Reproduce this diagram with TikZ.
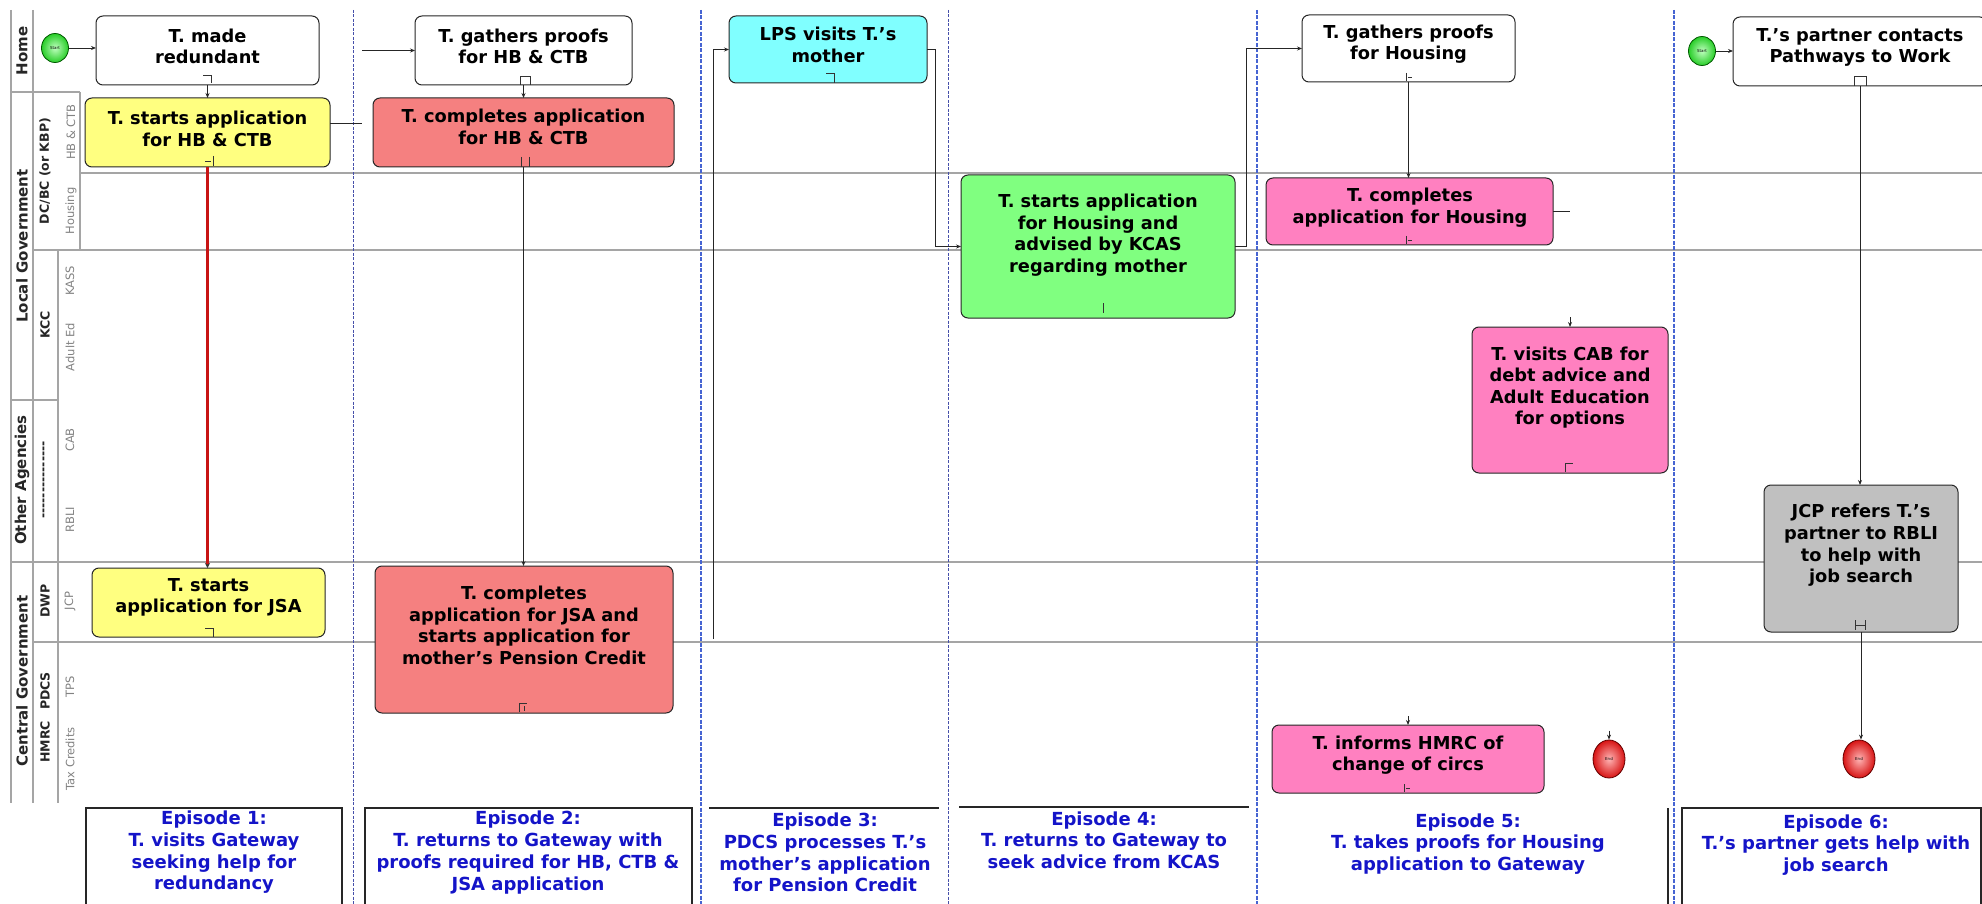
\documentclass[tikz,border=0pt]{standalone}
\usepackage{fontspec}
\setmainfont{DejaVu Sans}
\usepackage{graphicx}
\usetikzlibrary{arrows.meta,shapes.geometric}
\definecolor{cYel}{RGB}{255,255,128}
\definecolor{cRed}{RGB}{245,128,128}
\definecolor{cCyan}{RGB}{128,255,255}
\definecolor{cGreen}{RGB}{128,255,128}
\definecolor{cPink}{RGB}{255,128,192}
\definecolor{cGray}{RGB}{192,192,192}
\definecolor{epblue}{RGB}{20,20,200}
\definecolor{lanegray}{RGB}{165,165,165}
\definecolor{septhin}{RGB}{70,80,170}
\definecolor{septhick}{RGB}{70,100,210}
\definecolor{redline}{RGB}{200,20,20}
\definecolor{stIn}{RGB}{190,255,190}
\definecolor{stOut}{RGB}{40,205,40}
\definecolor{enIn}{RGB}{255,180,180}
\definecolor{enOut}{RGB}{215,20,20}
\definecolor{labgray}{RGB}{130,130,130}
\begin{document}
\begin{tikzpicture}[x=1pt,y=-1pt,
  box/.style={draw=black!85, line width=1pt, rounded corners=7pt, inner sep=0pt, outer sep=0pt},
  txt/.style={font=\fontsize{17.8}{21.6}\selectfont\bfseries, align=center, inner sep=0pt, text=black},
  eptxt/.style={font=\fontsize{18}{21.7}\selectfont\bfseries, align=center, inner sep=0pt, text=epblue},
  lab1/.style={rotate=90, font=\fontsize{15}{18}\selectfont\bfseries, inner sep=0pt, text=black!85},
  lab2/.style={rotate=90, font=\fontsize{12.5}{15}\selectfont\bfseries, inner sep=0pt, text=black!85},
  lab3/.style={rotate=90, font=\fontsize{11.5}{14}\selectfont, inner sep=0pt, text=labgray},
  lane/.style={draw=lanegray, line width=1.1pt},
  sepA/.style={draw=septhin, line width=0.9pt, dash pattern=on 3pt off 1.5pt},
  sepB/.style={draw=septhick, line width=1.8pt, dash pattern=on 4pt off 1.5pt},
  conn/.style={draw=black!85, line width=0.9pt, -{Stealth[length=5pt,width=4pt]}},
  plain/.style={draw=black!85, line width=0.9pt},
  redc/.style={draw=redline, line width=2.2pt, -{Stealth[length=5pt,width=5pt,color=black!80]}},
  mk/.style={draw=black!80, line width=0.7pt},
  epline/.style={draw=black!85, line width=1.4pt},
  startev/.style={ellipse, draw=green!35!black, line width=0.8pt, shading=radial, inner color=stIn, outer color=stOut, minimum width=27pt, minimum height=29pt, inner sep=0pt, font=\fontsize{4}{4}\selectfont},
  endev/.style={ellipse, draw=red!40!black, line width=0.8pt, shading=radial, inner color=enIn, outer color=enOut, minimum width=32pt, minimum height=38pt, inner sep=0pt, font=\fontsize{4}{4}\selectfont}
]
\useasboundingbox (0,0) rectangle (1982,904);

% ---- label column lines
\draw[lane] (11,10) -- (11,803);
\draw[lane] (33,10) -- (33,803);
\draw[lane] (58,250) -- (58,803);
\draw[lane] (80,92) -- (80,250);
\draw[lane] (11,92) -- (80,92);
\draw[lane] (11,400) -- (58,400);
% ---- lane lines
\draw[lane] (80,173) -- (1982,173);
\draw[lane] (33,250) -- (1982,250);
\draw[lane] (11,562) -- (1982,562);
\draw[lane] (33,642) -- (1982,642);

% ---- labels
\node[lab1] (lHome) at (22,51) {Home};
\node[lab1] (lLoc) at (22,246) {Local Government};
\node[lab1] (lOth) at (22,480) {Other Agencies};
\node[lab1] (lCen) at (22,681) {Central Government};
\node[lab2] (lDC) at (45,171) {DC/BC (or KBP)};
\node[lab2] (lKCC) at (45,325) {KCC};
\node[lab2] (lDash) at (45,480) {-{}-{}-{}-{}-{}-{}-{}-{}-{}-{}-{}-{}-{}-{}-};
\node[lab2] (lDWP) at (45,601) {DWP};
\node[lab2] (lPDCS) at (45,691) {PDCS};
\node[lab2] (lHMRC) at (45,742) {HMRC};
\node[lab3] (lHB) at (71,132) {HB \& CTB};
\node[lab3] (lHou) at (71,211) {Housing};
\node[lab3] (lKASS) at (70,281) {KASS};
\node[lab3] (lAE) at (70,347) {Adult Ed};
\node[lab3] (lCAB) at (70,440) {CAB};
\node[lab3] (lRBLI) at (70,520) {RBLI};
\node[lab3] (lJCP) at (70,601) {JCP};
\node[lab3] (lTPS) at (70,687) {TPS};
\node[lab3] (lTax) at (70,759) {Tax Credits};

% ---- episode separators
\draw[sepA] (353,10) -- (353,904);
\draw[sepB] (701,10) -- (701,904);
\draw[sepA] (948,10) -- (948,904);
\draw[sepB] (1257,10) -- (1257,904);
\draw[sepB] (1674,10) -- (1674,904);

% ---- episode frames
\draw[epline] (86,906) -- (86,808) -- (342,808) -- (342,906);
\draw[epline] (365,906) -- (365,808) -- (692,808) -- (692,906);
\draw[epline] (709,808) -- (939,808);
\draw[epline] (959,807) -- (1249,807);
\draw[epline] (1668,808) -- (1668,906);
\draw[epline] (1682,906) -- (1682,808) -- (1981,808) -- (1981,906);

% ---- boxes
\node[box, fill=white, minimum width=223pt, minimum height=69pt] (made) at (207.5,50.5) {};
\node[box, fill=white, minimum width=217pt, minimum height=69pt] (gathers1) at (523.5,50.5) {};
\node[box, fill=cCyan, minimum width=198pt, minimum height=67pt] (lps) at (828,49.5) {};
\node[box, fill=white, minimum width=213pt, minimum height=67pt] (gathers2) at (1408.5,48.5) {};
\node[box, fill=white, minimum width=254pt, minimum height=69pt] (partner) at (1860,51.5) {};
\node[box, fill=cYel, minimum width=245pt, minimum height=69pt] (appHB) at (207.5,132.5) {};
\node[box, fill=cRed, minimum width=301pt, minimum height=69pt] (compHB) at (523.5,132.5) {};
\node[box, fill=cGreen, minimum width=274pt, minimum height=143pt] (green) at (1098,246.5) {};
\node[box, fill=cPink, minimum width=287pt, minimum height=67pt] (compHou) at (1409.5,211.5) {};
\node[box, fill=cPink, minimum width=196pt, minimum height=146pt] (cab) at (1570,400) {};
\node[box, fill=cGray, minimum width=194pt, minimum height=147pt] (gray) at (1861,558.5) {};
\node[box, fill=cYel, minimum width=233pt, minimum height=69pt] (appJSA) at (208.5,602.5) {};
\node[box, fill=cRed, minimum width=298pt, minimum height=147pt] (compJSA) at (524,639.5) {};
\node[box, fill=cPink, minimum width=272pt, minimum height=68pt] (hmrc) at (1408,759) {};

% ---- events
\node[startev] (start1) at (55,48) {Start};
\node[startev] (start2) at (1702,51) {Start};
\node[endev] (end1) at (1609,759) {End};
\node[endev] (end2) at (1859,759) {End};

% ---- box texts
\node[txt] (made-t) at (207.5,46.5) {T. made\\redundant};
\node[txt] (gathers1-t) at (523.5,46.5) {T. gathers proofs\\for HB \& CTB};
\node[txt] (lps-t) at (828,45) {LPS visits T.'s\\mother};
\node[txt] (gathers2-t) at (1408.5,44) {T. gathers proofs\\for Housing};
\node[txt] (partner-t) at (1860,47.5) {T.'s partner contacts\\Pathways to Work};
\node[txt] (appHB-t) at (207.5,129) {T. starts application\\for HB \& CTB};
\node[txt] (compHB-t) at (523.5,127) {T. completes application\\for HB \& CTB};
\node[txt] (green-t) at (1098,235) {T. starts application\\for Housing and\\advised by KCAS\\regarding mother};
\node[txt] (compHou-t) at (1410,207.5) {T. completes\\application for Housing};
\node[txt] (cab-t) at (1570,387.5) {T. visits CAB for\\debt advice and\\Adult Education\\for options};
\node[txt] (gray-t) at (1861,545.5) {JCP refers T.'s\\partner to RBLI\\to help with\\job search};
\node[txt] (appJSA-t) at (208.5,597.5) {T. starts\\application for JSA};
\node[txt] (compJSA-t) at (524,625.5) {T. completes\\application for JSA and\\starts application for\\mother's Pension Credit};
\node[txt] (hmrc-t) at (1408,755) {T. informs HMRC of\\change of circs};

% ---- episode texts
\node[eptxt] (ep1) at (214,852.5) {Episode 1:\\T. visits Gateway\\seeking help for\\redundancy};
\node[eptxt] (ep2) at (528,852.5) {Episode 2:\\T. returns to Gateway with\\proofs required for HB, CTB \&\\JSA application};
\node[eptxt] (ep3) at (825,852.5) {Episode 3:\\PDCS processes T.'s\\mother's application\\for Pension Credit};
\node[eptxt] (ep4) at (1104,840) {Episode 4:\\T. returns to Gateway to\\seek advice from KCAS};
\node[eptxt] (ep5) at (1468,844) {Episode 5:\\T. takes proofs for Housing\\application to Gateway};
\node[eptxt] (ep6) at (1836,845) {Episode 6:\\T.'s partner gets help with\\job search};

% ---- small markers
\draw[mk] (203,75) -- (211,75) -- (211,83);
\draw[mk] (520,85) -- (520,76) -- (530,76) -- (530,85);
\draw[mk] (213,156) -- (213,166) (205,161) -- (211,161);
\draw[mk] (521,157) -- (521,167) (529,157) -- (529,167);
\draw[mk] (826,73) -- (834,73) -- (834,83);
\draw[mk] (205,628) -- (213,628) -- (213,637);
\draw[mk] (519,712) -- (519,703) -- (527,703) (524,706) -- (524,711);
\draw[mk] (1103,303) -- (1103,313);
\draw[mk] (1406,73) -- (1406,81) (1408,77) -- (1412,77);
\draw[mk] (1406,236) -- (1406,244) (1408,240) -- (1412,240);
\draw[mk] (1565,472) -- (1565,463) -- (1573,463);
\draw[mk] (1855,620) -- (1855,630) (1855,625) -- (1865,625) (1865,620) -- (1865,630);
\draw[mk] (1404,784) -- (1404,792) (1406,788) -- (1410,788);
\draw[mk] (1854,86) -- (1854,76) -- (1866,76) -- (1866,86);

% ---- connectors
\draw[conn] (start1.east) -- (start1.east -| made.west);
\draw[conn] (made.south) -- (appHB.north);
\draw[redc] (appHB.south) -- (appHB.south |- appJSA.north);
\draw[plain] ([yshift=9.5pt]appHB.east) -- ++(32,0) coordinate (c1);
\coordinate (c2) at (362,50.5);
\draw[conn] (c2) -- (gathers1.west);
\draw[conn] (gathers1.south) -- (compHB.north);
\draw[conn] (compHB.south) -- (compHB.south |- compJSA.north);
\coordinate (c3) at (713,639);
\draw[conn] (c3) |- (lps.west);
\draw[conn] (lps.east) -- ++(8,0) |- (green.west);
\draw[conn] (green.east) -- ++(11,0) |- (gathers2.west);
\draw[conn] (gathers2.south) -- (gathers2.south |- compHou.north);
\draw[plain] (compHou.east) -- ++(17,0);
\draw[conn] ([yshift=10pt]cab.north) -- (cab.north);
\draw[conn] ([yshift=9pt]hmrc.north) -- (hmrc.north);
\draw[conn] ([yshift=9pt]end1.north) -- (end1.north);
\draw[conn] (start2.east) -- (start2.east -| partner.west);
\draw[conn] (partner.south) -- (partner.south |- gray.north);
\draw[conn] (gray.south) -- (gray.south |- end2.north);
\end{tikzpicture}
\end{document}
